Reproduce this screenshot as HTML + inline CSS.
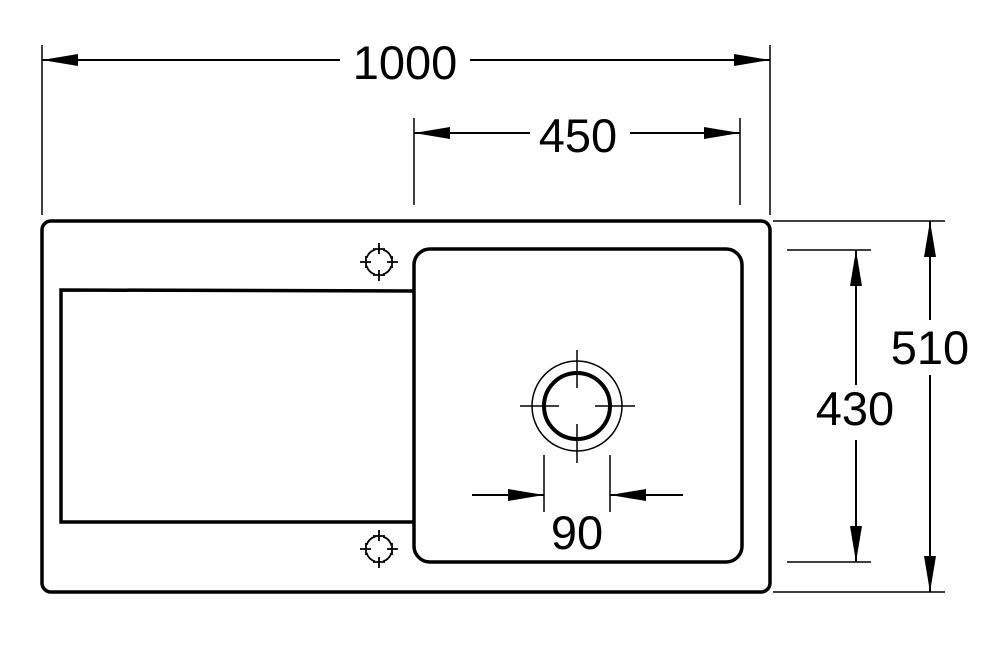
<!DOCTYPE html>
<html><head><style>body{margin:0;background:#fff}svg{display:block}</style></head><body>
<svg width="992" height="660" viewBox="0 0 992 660" xmlns="http://www.w3.org/2000/svg" font-family="Liberation Sans, sans-serif">
<defs>
<marker id="a" viewBox="0 0 36 12" refX="36" refY="6" markerWidth="36" markerHeight="12" markerUnits="userSpaceOnUse" orient="auto"><path d="M0,0 L36,6 L0,12 Z" fill="#000"/></marker>
<g id="m" fill="none" stroke="#000" stroke-width="1.8">
<circle r="13" stroke-dasharray="12.4 8" stroke-dashoffset="-4"/>
<path d="M0 -19V-8M0 8V19M-19 0H-8M8 0H19M-6 -13H6M-6 13H6M-13 -6V6M13 -6V6"/>
</g>
</defs>
<g fill="none" stroke="#000">
<rect x="42" y="221" width="728" height="371" rx="9" stroke-width="3.5"/>
<rect x="414" y="249" width="328" height="313" rx="16" stroke-width="3.5"/>
<path d="M414 291 L61 290 L61 522 L414 522" stroke-width="3.5"/>
<circle cx="577" cy="406" r="45" stroke-width="1.5"/>
<circle cx="577" cy="406" r="33" stroke-width="4"/>
<g stroke-width="1.5">
<path d="M520 406H559M595 406H635M577 350V388M577 424V463"/>
<path d="M544 455V512M610 455V512"/>
<path d="M42 45V215M770 45V215M414 118V205M740 118V205"/>
<path d="M773 221H945M787 250H871M773 592H945M787 562H871"/>
</g>
<g stroke-width="2" stroke="#000">
<path d="M340 60H42" marker-end="url(#a)"/><path d="M470 60H770" marker-end="url(#a)"/>
<path d="M530 133H414" marker-end="url(#a)"/><path d="M630 133H740" marker-end="url(#a)"/>
<path d="M930 320V221" marker-end="url(#a)"/><path d="M930 375V592" marker-end="url(#a)"/>
<path d="M856 385V250" marker-end="url(#a)"/><path d="M856 440V562" marker-end="url(#a)"/>
<path d="M472 495H544" marker-end="url(#a)"/><path d="M683 495H610" marker-end="url(#a)"/>
</g>
</g>
<use href="#m" x="379" y="262"/>
<use href="#m" x="379" y="549"/>
<g font-size="47" text-anchor="middle" fill="#000">
<text x="405" y="79">1000</text>
<text x="578" y="152">450</text>
<text x="930" y="364">510</text>
<text x="855" y="425">430</text>
<text x="577" y="549">90</text>
</g>
</svg>
</body></html>
